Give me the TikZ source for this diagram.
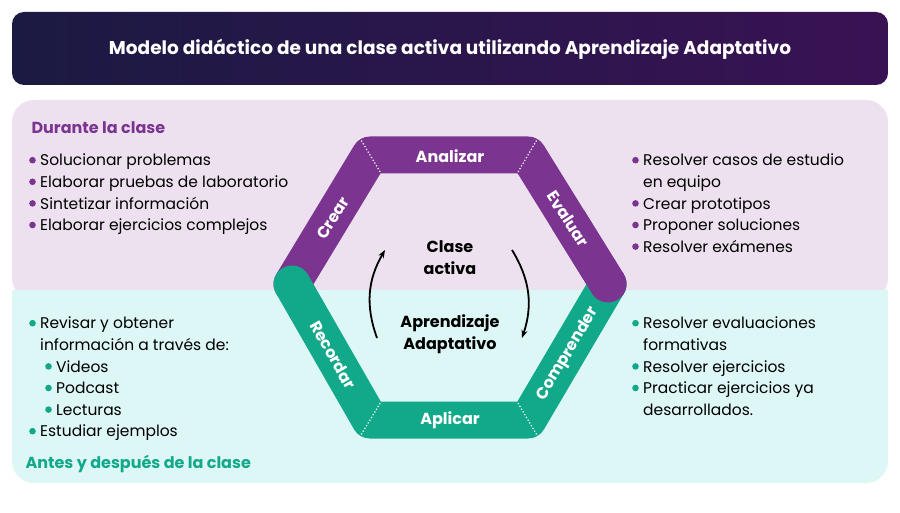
\documentclass[tikz,border=0pt]{standalone}
\usepackage{fontspec}
\setmainfont{Poppins}
\usetikzlibrary{positioning,calc,arrows.meta}
\definecolor{morado}{HTML}{7B3590}
\definecolor{verde}{HTML}{12A98B}
\definecolor{fondomorado}{HTML}{EDE1EF}
\definecolor{fondoverde}{HTML}{DDF6F6}
\definecolor{marino}{HTML}{1B1A42}
\tikzset{
  panel/.style={rounded corners=22pt},
  banda/.style={line width=37pt, line join=round, line cap=round},
  etiqueta/.style={text=white, font=\fontsize{16}{18}\selectfont\bfseries},
  lista/.style={align=left, anchor=north west, font=\fontsize{15.5}{21.6}\selectfont, inner sep=0pt},
  centro/.style={font=\fontsize{16}{22}\selectfont\bfseries, align=center},
  corte/.style={white, line width=1.2pt, dotted}
}
\newcommand{\bm}{\makebox[11pt][l]{\raisebox{2.5pt}{\tikz\fill[morado] (0,0) circle (3.3pt);}}}
\newcommand{\bv}{\makebox[11pt][l]{\raisebox{2.5pt}{\tikz\fill[verde] (0,0) circle (3.3pt);}}}
\begin{document}
\begin{tikzpicture}[x=1pt,y=-1pt]
\useasboundingbox (0,0) rectangle (900,513);
% encabezado
\shade[rounded corners=12pt, left color=marino, right color=marino!70!violet, middle color=marino!85!violet] (12,12) rectangle (888,85);
\node[text=white, font=\fontsize{18.5}{20}\selectfont\bfseries] (titulo) at (450,49) {Modelo didáctico de una clase activa utilizando Aprendizaje Adaptativo};
% paneles
\fill[fondomorado, panel] (12,100) rectangle (888,300);
\fill[fondoverde, panel] (12,290) rectangle (888,483);
\fill[fondoverde] (12,290) rectangle (888,310);
% hexagono
\coordinate (c) at (450,288);
\coordinate (izq) at (292,284);
\coordinate (si) at (370,155);
\coordinate (sd) at (528,155);
\coordinate (der) at (608,284);
\coordinate (id) at (528,420);
\coordinate (ii) at (370,420);
\draw[banda, morado] (izq) -- (si) -- (sd) -- (der);
\draw[banda, verde] (izq) -- (ii) -- (id) -- (der);
\fill[morado] (der) circle (18.5pt);
\draw[banda, morado, line cap=butt] ($(sd)!0.5!(der)$) -- (der);
\foreach \v in {si,sd,id,ii}
  \draw[corte] ($(\v)!-20pt!(c)$) -- ($(\v)!21pt!(c)$);
% etiquetas
\node[etiqueta] (analizar) at (450,156) {Analizar};
\node[etiqueta] (aplicar) at (450,420) {Aplicar};
\node[etiqueta, rotate=58] (crear) at (333,218) {Crear};
\node[etiqueta, rotate=-57] (evaluar) at (568,219) {Evaluar};
\node[etiqueta, rotate=-60] (recordar) at (333,355) {Recordar};
\node[etiqueta, rotate=59] (comprender) at (568,354) {Comprender};
% centro
\node[centro] (clase) at (450,258) {Clase\\activa};
\node[centro] (aprendizaje) at (450,334) {Aprendizaje\\Adaptativo};
\draw[-{Stealth[length=8pt]}, line width=1.8pt] (377,338) to[bend left=25] (385,250);
\draw[-{Stealth[length=8pt]}, line width=1.8pt] (512,250) to[bend left=25] (522,338);
% textos
\node[text=morado, font=\fontsize{16}{18}\selectfont\bfseries, anchor=west] (durante) at (28,128) {Durante la clase};
\node[text=verde, font=\fontsize{16}{18}\selectfont\bfseries, anchor=west] (antes) at (22,464) {Antes y después de la clase};
\node[lista] (lista1) at (29,154) {\bm Solucionar problemas\\\bm Elaborar pruebas de laboratorio\\\bm Sintetizar información\\\bm Elaborar ejercicios complejos};
\node[lista] (lista2) at (632,154) {\bm Resolver casos de estudio\\\phantom{\bm}en equipo\\\bm Crear prototipos\\\bm Proponer soluciones\\\bm Resolver exámenes};
\node[lista] (lista3) at (29,317) {\bv Revisar y obtener\\\phantom{\bv}información a través de:\\\hspace{16pt}\bv Videos\\\hspace{16pt}\bv Podcast\\\hspace{16pt}\bv Lecturas\\\bv Estudiar ejemplos};
\node[lista] (lista4) at (632,317) {\bv Resolver evaluaciones\\\phantom{\bv}formativas\\\bv Resolver ejercicios\\\bv Practicar ejercicios ya\\\phantom{\bv}desarrollados.};
\end{tikzpicture}
\end{document}
